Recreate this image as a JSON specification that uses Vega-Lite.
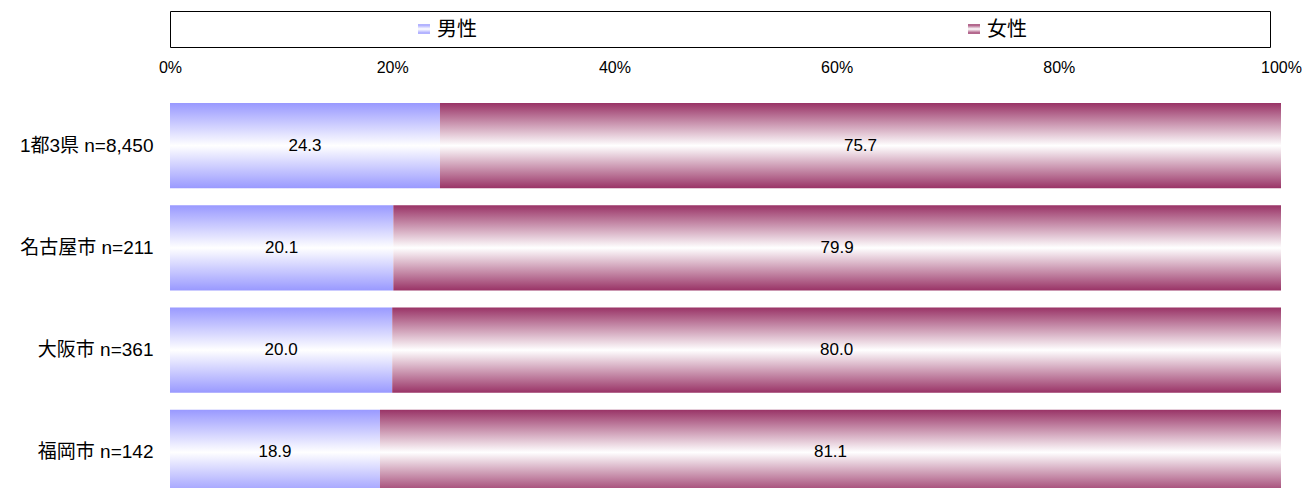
{
  "$schema": "https://vega.github.io/schema/vega-lite/v6.json",
  "autosize": {"type": "pad"},
  "padding": {"left": 0, "top": 10, "right": 0, "bottom": 0},
  "config": {"font": "'Liberation Sans', 'Noto Sans CJK JP', sans-serif", "view": {"stroke": null}},
  "datasets": {
    "main": [
      {"region": "1都3県 n=8,450", "sex": "男性", "pct": 24.3},
      {"region": "1都3県 n=8,450", "sex": "女性", "pct": 75.7},
      {"region": "名古屋市 n=211", "sex": "男性", "pct": 20.1},
      {"region": "名古屋市 n=211", "sex": "女性", "pct": 79.9},
      {"region": "大阪市 n=361", "sex": "男性", "pct": 20.0},
      {"region": "大阪市 n=361", "sex": "女性", "pct": 80.0},
      {"region": "福岡市 n=142", "sex": "男性", "pct": 18.9},
      {"region": "福岡市 n=142", "sex": "女性", "pct": 81.1}
    ]
  },
  "bounds": "flush",
  "spacing": 56,
  "vconcat": [
    {
      "width": 1100,
      "height": 36,
      "view": {"stroke": "#000000", "strokeWidth": 1},
      "data": {"name": "main"},
      "transform": [{"aggregate": [{"op": "count", "as": "n"}], "groupby": ["sex"]}],
      "encoding": {
        "x": {"field": "sex", "type": "nominal", "sort": ["男性", "女性"], "axis": null}
      },
      "layer": [
        {
          "transform": [{"filter": "datum.sex === '男性'"}],
          "mark": {"type": "point", "shape": "M-1,-0.8H1V0.8H-1Z", "size": 144, "filled": true, "opacity": 1, "strokeWidth": 0, "xOffset": -21,
            "fill": {"gradient": "linear", "x1": 0, "y1": 0, "x2": 0, "y2": 1, "stops": [{"offset": 0, "color": "#9999ff"}, {"offset": 0.5, "color": "#ffffff"}, {"offset": 1, "color": "#9999ff"}]}}
        },
        {
          "transform": [{"filter": "datum.sex === '女性'"}],
          "mark": {"type": "point", "shape": "M-1,-0.8H1V0.8H-1Z", "size": 144, "filled": true, "opacity": 1, "strokeWidth": 0, "xOffset": -21,
            "fill": {"gradient": "linear", "x1": 0, "y1": 0, "x2": 0, "y2": 1, "stops": [{"offset": 0, "color": "#993366"}, {"offset": 0.5, "color": "#ffffff"}, {"offset": 1, "color": "#993366"}]}}
        },
        {
          "mark": {"type": "text", "align": "left", "baseline": "middle", "dx": -8, "dy": 1, "fontSize": 20, "font": "'Noto Sans CJK JP', sans-serif", "color": "#000000"},
          "encoding": {"text": {"field": "sex"}}
        }
      ]
    },
    {
      "width": 1111,
      "height": 386,
      "data": {"name": "main"},
      "transform": [
        {"stack": "pct", "groupby": ["region"], "sort": [{"field": "sex", "order": "descending"}], "as": ["v0", "v1"]}
      ],
      "encoding": {
        "y": {
          "field": "region", "type": "nominal", "sort": null, "title": null,
          "scale": {"range": [0, 392], "paddingInner": 0.165, "paddingOuter": 0},
          "axis": {"ticks": false, "domain": false, "labelFontSize": 19, "labelColor": "#000000", "labelPadding": 17, "minExtent": 170, "maxExtent": 170, "labelLimit": 0}
        }
      },
      "layer": [
        {
          "transform": [{"filter": "datum.sex === '男性'"}],
          "mark": {"type": "bar", "clip": true,
            "fill": {"gradient": "linear", "x1": 0, "y1": 0, "x2": 0, "y2": 1, "stops": [{"offset": 0, "color": "#9999ff"}, {"offset": 0.5, "color": "#ffffff"}, {"offset": 1, "color": "#9999ff"}]}},
          "encoding": {
            "x": {
              "field": "v0", "type": "quantitative", "title": null,
              "scale": {"domain": [0, 100], "nice": false},
              "axis": {"orient": "top", "values": [0, 20, 40, 60, 80, 100], "labelExpr": "datum.value + '%'", "ticks": false, "tickSize": 0, "domain": false, "grid": false, "labelFontSize": 16, "labelColor": "#000000", "labelPadding": 28, "labelFlush": false}
            },
            "x2": {"field": "v1"}
          }
        },
        {
          "transform": [{"filter": "datum.sex === '女性'"}],
          "mark": {"type": "bar", "clip": true,
            "fill": {"gradient": "linear", "x1": 0, "y1": 0, "x2": 0, "y2": 1, "stops": [{"offset": 0, "color": "#993366"}, {"offset": 0.5, "color": "#ffffff"}, {"offset": 1, "color": "#993366"}]}},
          "encoding": {
            "x": {"field": "v0", "type": "quantitative"},
            "x2": {"field": "v1"}
          }
        },
        {
          "transform": [
            {"fold": ["v0", "v1"], "as": ["k", "pos"]},
            {"aggregate": [{"op": "mean", "field": "pos", "as": "mid"}, {"op": "max", "field": "pct", "as": "val"}], "groupby": ["region", "sex"]}
          ],
          "mark": {"type": "text", "fontSize": 17, "color": "#000000", "baseline": "middle"},
          "encoding": {
            "x": {"field": "mid", "type": "quantitative"},
            "text": {"field": "val", "type": "quantitative", "format": ".1f"}
          }
        }
      ]
    }
  ]
}
